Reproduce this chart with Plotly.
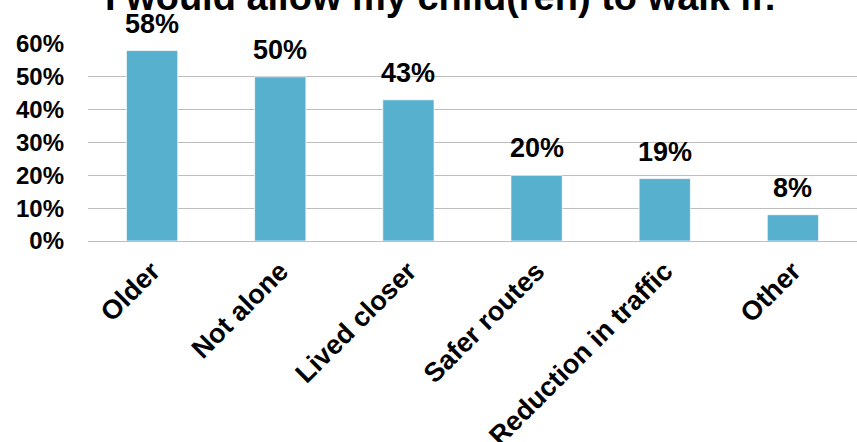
import plotly.graph_objects as go

# Survey responses: conditions under which parents would let children walk
categories = ["Older", "Not alone", "Lived closer", "Safer routes", "Reduction in traffic", "Other"]
shares = [0.58, 0.50, 0.43, 0.20, 0.19, 0.08]
y_ticks = [0.0, 0.1, 0.2, 0.3, 0.4, 0.5, 0.6]
title_text = "I would allow my child(ren) to walk if:"

FONT = "Liberation Sans, Arial, sans-serif"
BAR_COLOR = "#56B0CE"
GRID_COLOR = "#BEBEBE"

fig = go.Figure()
fig.add_trace(go.Bar(
    x=categories,
    y=shares,
    marker=dict(color=BAR_COLOR, line=dict(color="rgba(255,255,255,0.7)", width=1)),
    cliponaxis=False,
    hoverinfo="skip",
))

# value labels above each bar
for cat, val in zip(categories, shares):
    fig.add_annotation(
        x=cat, y=val, xref="x", yref="y",
        text=f"<b>{round(val * 100)}%</b>",
        showarrow=False, yanchor="bottom", yshift=10,
        font=dict(family=FONT, size=27, color="black"),
    )

# chart heading, partly above the page edge
fig.add_annotation(
    xref="paper", x=(440.5 - 88) / 769, y=1.122, yref="paper",
    text=f"<b>{title_text}</b>",
    showarrow=False, yanchor="bottom", xanchor="center",
    font=dict(family=FONT, size=38, color="black"),
)

fig.update_layout(
    width=857, height=442,
    margin=dict(l=88, r=0, t=44, b=201, autoexpand=False),
    paper_bgcolor="white", plot_bgcolor="white",
    bargap=0.6,
    showlegend=False,
)

fig.update_yaxes(
    range=[0, 0.6],
    tickvals=y_ticks,
    ticktext=[f"<b>{round(v * 100)}%</b>" for v in y_ticks],
    tickfont=dict(family=FONT, size=24, color="black"),
    showgrid=True, gridcolor=GRID_COLOR, gridwidth=1.3,
    zeroline=True, zerolinecolor=GRID_COLOR, zerolinewidth=1.3,
    showline=False, ticks="", ticklabelstandoff=23, automargin=False,
)

fig.update_xaxes(
    tickangle=-45,
    tickvals=categories,
    ticktext=[f"<b>{c}</b>" for c in categories],
    tickfont=dict(family=FONT, size=27, color="black"),
    showgrid=False, showline=False, ticks="", ticklabelstandoff=8, automargin=False,
)

fig.write_html("out.html")
